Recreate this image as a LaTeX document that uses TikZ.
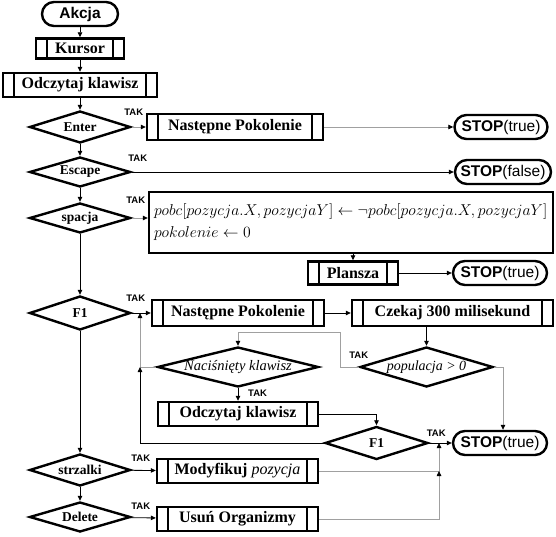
\RequirePackage{fix-cm}
\documentclass[tikz,border=0pt]{standalone}
\usepackage{fontspec}
\setmainfont{Liberation Serif}
\newfontfamily\arialfont{Liberation Sans}
\usetikzlibrary{arrows.meta, positioning, shapes.geometric}
\definecolor{LineGray}{HTML}{A0A0A0}
\tikzset{
  subbox/.style={draw, line width=2.4pt, fill=white, inner sep=0pt, minimum height=24pt, font=\fontsize{16}{18}\selectfont\bfseries,
    path picture={\draw[line width=2pt] ([xshift=11pt]path picture bounding box.north west) -- ([xshift=11pt]path picture bounding box.south west)
      ([xshift=-11pt]path picture bounding box.north east) -- ([xshift=-11pt]path picture bounding box.south east);}},
  stopbox/.style={draw, line width=2.4pt, rounded corners=12pt, inner sep=0pt, minimum height=24pt, font=\arialfont\fontsize{15.5}{17}\selectfont},
  decbox/.style={diamond, draw, line width=2.4pt, inner sep=0pt, aspect=3, minimum width=101pt, minimum height=32pt, font=\fontsize{13.5}{15}\selectfont\bfseries},
  mathbox/.style={draw, line width=2.4pt, inner sep=4pt, align=left, font=\fontsize{15.7}{22}\selectfont},
  tak/.style={font=\arialfont\fontsize{9.5}{10}\selectfont\bfseries, inner sep=0pt},
  arrow/.style={-{Triangle[length=5pt,width=4.5pt]}, line width=0.8pt},
  grayarrow/.style={-{Triangle[length=5pt,width=4.5pt,color=black]}, line width=0.8pt, draw=LineGray}
}
\begin{document}
\begin{tikzpicture}[x=1pt, y=-1pt]
\useasboundingbox (0,0) rectangle (556,537);
% lewa kolumna
\node[stopbox, minimum width=76pt, font=\arialfont\fontsize{15.5}{17}\selectfont\bfseries] (akcja) at (80,14) {Akcja};
\node[subbox, minimum width=88pt, minimum height=20pt] (kursor) at (80,48.5) {Kursor};
\node[subbox, minimum width=154pt] (odczytaj) at (80,85) {Odczytaj klawisz};
\node[decbox] (enter) at (80,127) {Enter};
\node[decbox, minimum height=30pt] (escape) at (80,172) {Escape};
\node[decbox, minimum height=30pt] (spacja) at (80,218) {spacja};
\node[decbox, minimum height=34pt] (fjeden) at (80,313) {F1};
\node[decbox] (strzalki) at (80,470) {strzalki};
\node[decbox, minimum height=30pt] (delete) at (80,517) {Delete};
% prawa strona
\node[subbox, minimum width=176pt, minimum height=26pt] (nastepne) at (235,127) {Następne Pokolenie};
\node[stopbox, minimum width=93pt] (stopA) at (501,127) {\textbf{STOP}(true)};
\node[stopbox, minimum width=96pt] (stopB) at (503,172) {\textbf{STOP}(false)};
\node[mathbox, minimum width=404pt, minimum height=61pt, text width=394pt] (przypisz) at (351,222.5) {%
$pobc[pozycja.X, pozycjaY] \leftarrow \neg pobc[pozycja.X, pozycjaY]$\\
$pokolenie \leftarrow 0$};
\node[subbox, minimum width=90pt, minimum height=23pt] (plansza) at (353,273) {Plansza};
\node[stopbox, minimum width=94pt] (stopC) at (500,273) {\textbf{STOP}(true)};
\node[subbox, minimum width=172pt, minimum height=26pt] (nastepneB) at (238,313) {Następne Pokolenie};
\node[subbox, minimum width=201pt, minimum height=26pt] (czekaj) at (452.5,313) {Czekaj 300 milisekund};
\node[decbox, inner xsep=-8pt, aspect=4, minimum width=161pt, minimum height=40pt, font=\fontsize{14.5}{16}\selectfont\itshape] (nacisniety) at (238,367) {Naciśnięty klawisz};
\node[decbox, inner xsep=-8pt, aspect=3.4, minimum width=133pt, minimum height=40pt, font=\fontsize{14}{16}\selectfont\itshape] (populacja) at (426.5,367) {populacja > 0};
\node[subbox, minimum width=160pt] (odczytajB) at (238,414) {Odczytaj klawisz};
\node[decbox, minimum width=103pt, minimum height=33pt] (fjedenB) at (376.5,443) {F1};
\node[stopbox, minimum width=94pt] (stopD) at (500,443) {\textbf{STOP}(true)};
\node[subbox, minimum width=161pt] (modyfikuj) at (237.5,471) {Modyfikuj \textnormal{\itshape pozycja}};
\node[subbox, minimum width=161pt] (usun) at (237.5,519) {Usuń Organizmy};
% etykiety TAK
\node[tak, anchor=south] (takA) at ([shift={(2pt,11pt)}]enter.east) {TAK};
\node[tak, anchor=south] (takB) at ([shift={(6pt,10pt)}]escape.east) {TAK};
\node[tak, anchor=south] (takC) at ([shift={(4pt,14pt)}]spacja.east) {TAK};
\node[tak, anchor=south] (takD) at ([shift={(4pt,11pt)}]fjeden.east) {TAK};
\node[tak, anchor=south] (takE) at ([shift={(0pt,8pt)}]populacja.west) {TAK};
\node[tak, anchor=north west] (takF) at ([shift={(10pt,-2pt)}]nacisniety.south) {TAK};
\node[tak, anchor=south] (takG) at ([shift={(7pt,6pt)}]fjedenB.east) {TAK};
\node[tak, anchor=south] (takH) at ([shift={(9pt,8pt)}]strzalki.east) {TAK};
\node[tak, anchor=south] (takI) at ([shift={(9pt,7pt)}]delete.east) {TAK};
\coordinate (wejscie) at (140,313);
\coordinate (zbior) at (439,443);
% polaczenia
\draw[arrow] (akcja) -- (kursor);
\draw[arrow] (kursor) -- (odczytaj);
\draw[arrow] (odczytaj) -- (enter);
\draw[arrow] (enter) -- (escape);
\draw[arrow] (escape) -- (spacja);
\draw[arrow] (spacja) -- (fjeden);
\draw[arrow] (fjeden) -- (strzalki);
\draw[arrow] (strzalki) -- (delete);
\draw[grayarrow] (enter) -- (nastepne);
\draw[grayarrow] (nastepne) -- (stopA);
\draw[arrow] (escape) -- (stopB);
\draw[grayarrow] (spacja.east) -- (spacja.east -| przypisz.west);
\draw[arrow] (przypisz.south -| plansza.north) -- (plansza.north);
\draw[arrow] (plansza) -- (stopC);
\draw[arrow] (fjeden) -- (nastepneB);
\draw[arrow] (nastepneB) -- (czekaj);
\draw[arrow] (czekaj.south -| populacja.north) -- (populacja.north);
\draw[grayarrow] (populacja.west) -- ++(-18,0) |- ([yshift=13pt]nacisniety.north) -- (nacisniety.north);
\draw[grayarrow] (populacja.east) -| ([xshift=3pt]stopD.north);
\draw[grayarrow] (nacisniety.west) -| (wejscie);
\draw[arrow] (fjedenB.west) -| (nacisniety.west -| wejscie);
\draw[arrow] (nacisniety) -- (odczytajB);
\draw[arrow] (odczytajB.east) -| (fjedenB.north);
\draw[arrow] (fjedenB) -- (stopD);
\draw[arrow] (strzalki) -- (modyfikuj);
\draw[arrow] (delete) -- (usun);
\draw[grayarrow] (modyfikuj.east) -| (zbior);
\draw[grayarrow] (usun.east) -| (modyfikuj.east -| zbior);
\end{tikzpicture}
\end{document}
